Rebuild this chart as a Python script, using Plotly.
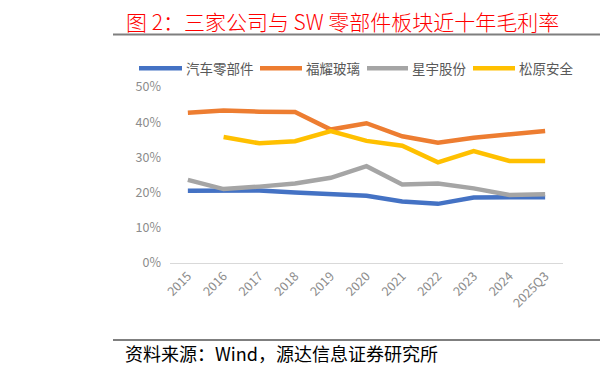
import plotly.graph_objects as go

categories = ["2015", "2016", "2017", "2018", "2019", "2020", "2021", "2022", "2023", "2024", "2025Q3"]
auto_parts = [20.5, 20.7, 20.6, 20.0, 19.6, 19.1, 17.5, 16.8, 18.6, 18.7, 18.7]
fuyao = [42.7, 43.3, 43.0, 42.9, 37.9, 39.7, 36.0, 34.2, 35.6, 36.5, 37.5]
xingyu = [23.6, 21.0, 21.7, 22.6, 24.2, 27.5, 22.3, 22.6, 21.2, 19.3, 19.5]
songyuan = [None, 35.8, 34.0, 34.6, 37.5, 34.7, 33.3, 28.6, 31.8, 29.0, 29.0]

series_names = ["汽车零部件", "福耀玻璃", "星宇股份", "松原安全"]
series_values = [auto_parts, fuyao, xingyu, songyuan]
colors = ["#4472C4", "#ED7D31", "#A5A5A5", "#FFC000"]

W, H = 600, 375
L, R, T, B = 170, 37, 86.7, 111.7
pw, ph = W - L - R, H - T - B

def px(x):
    return (x - L) / pw

def py(y):
    return (H - B - y) / ph

CJK = "Noto Sans CJK SC"

fig = go.Figure()
for name, vals, c in zip(series_names, series_values, colors):
    fig.add_trace(go.Scatter(
        x=categories, y=[v / 100 if v is not None else None for v in vals],
        mode="lines", name=name,
        line=dict(color=c, width=4.5),
    ))

# custom legend (line sample + label), positioned like the reference
legend_line_x = [(139, 182), (260, 302), (367, 408), (473, 515)]
shapes = []
annotations = []
for (x0, x1), name, c in zip(legend_line_x, series_names, colors):
    shapes.append(dict(type="line", xref="paper", yref="paper", x0=px(x0), x1=px(x1),
                       y0=py(68), y1=py(68), line=dict(color=c, width=4.5)))
    annotations.append(dict(text=name, xref="paper", yref="paper", x=px(x1 + 2), y=py(68),
                            xanchor="left", yanchor="middle", showarrow=False,
                            font=dict(family=CJK, size=13.5, color="#595959")))

annotations += [
    dict(text="图 2：三家公司与 SW 零部件板块近十年毛利率", xref="paper", yref="paper",
         x=px(124), y=py(20), xanchor="left", yanchor="middle", showarrow=False,
         font=dict(family=CJK, size=21, color="#FF0000", weight=300)),
    dict(text="资料来源：Wind，源达信息证券研究所", xref="paper", yref="paper",
         x=px(123), y=py(354), xanchor="left", yanchor="middle", showarrow=False,
         font=dict(family=CJK, size=18, color="#000000", weight=400)),
]
shapes += [
    dict(type="line", xref="paper", yref="paper", x0=px(113), x1=px(600), y0=py(34), y1=py(34),
         line=dict(color="#7F7F7F", width=2)),
    dict(type="line", xref="paper", yref="paper", x0=px(113), x1=px(600), y0=py(340.5), y1=py(340.5),
         line=dict(color="#7F7F7F", width=2)),
]

fig.update_layout(
    width=W, height=H,
    margin=dict(l=L, r=R, t=T, b=B, autoexpand=False),
    plot_bgcolor="white", paper_bgcolor="white",
    showlegend=False,
    xaxis=dict(
        type="category", range=[-0.5, 10.5], showgrid=False,
        showline=True, linecolor="#D9D9D9", linewidth=1,
        tickangle=-45, ticks="", tickfont=dict(family=CJK, size=12.5, color="#8C8C8C"),
        zeroline=False,
    ),
    yaxis=dict(
        range=[0, 0.5], dtick=0.1, tickformat=".0%", showgrid=False,
        showline=False, zeroline=False, ticks="",
        ticklabelstandoff=8,
        tickfont=dict(family=CJK, size=12.5, color="#8C8C8C"),
    ),
    annotations=annotations,
    shapes=shapes,
)

fig.write_html("out.html")
